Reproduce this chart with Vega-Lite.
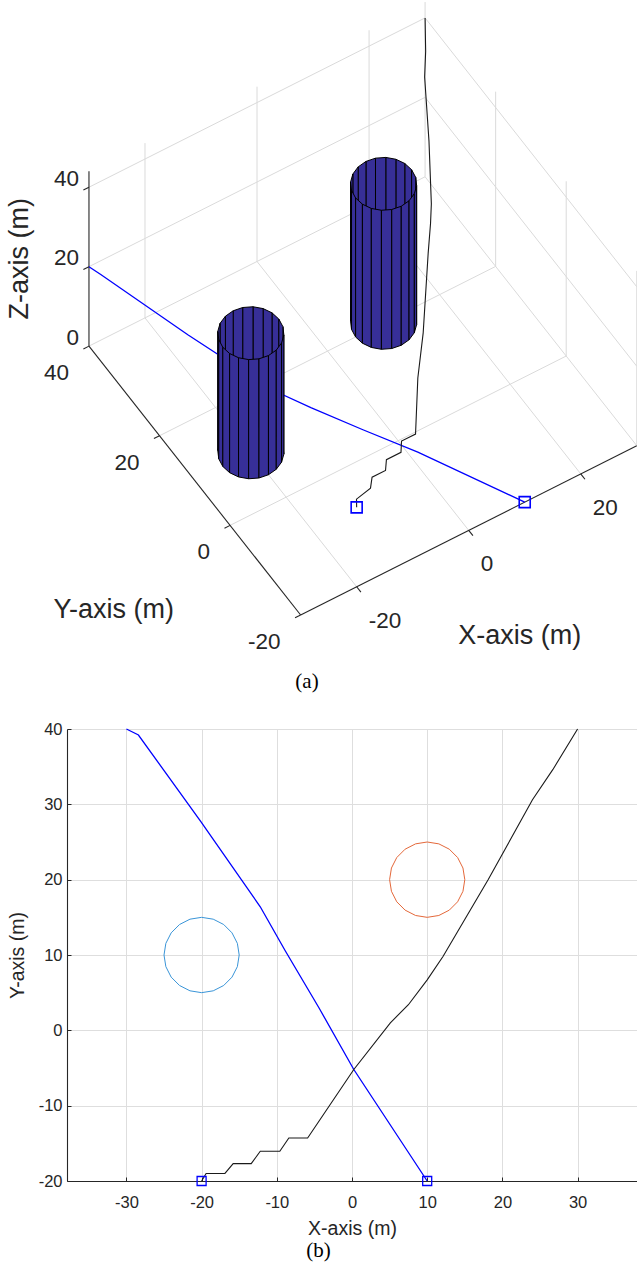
{
"$schema": "https://vega.github.io/schema/vega-lite/v6.json",
"background": "white",
"padding": {"left": 6, "top": 0, "right": 0, "bottom": 22},
"bounds": "flush",
"spacing": 64,
"config": {
  "view": {"stroke": null},
  "font": "Liberation Sans",
  "axis": {"labelFont": "Liberation Sans", "labelFontSize": 16.5, "labelColor": "#262626", "titleFont": "Liberation Sans", "titleFontSize": 19.5, "titleFontWeight": "normal", "titleColor": "#262626", "gridColor": "#dedede", "gridWidth": 1, "domainColor": "#262626", "domainWidth": 1.1, "tickColor": "#262626", "tickSize": -4, "labelOverlap": false, "labelFlush": false, "labelExpr": "toString(datum.value)"},
  "axisX": {"labelPadding": 17, "titlePadding": 9},
  "axisY": {"labelPadding": 9, "titlePadding": 11}
},
"datasets": {
  "obstacles": [
    {"c":"B","f":0,"o":0,"X":15,"Y":20,"Z":0},{"c":"B","f":0,"o":1,"X":14.755,"Y":21.545,"Z":0},{"c":"B","f":0,"o":2,"X":14.755,"Y":21.545,"Z":35},{"c":"B","f":0,"o":3,"X":15,"Y":20,"Z":35},
    {"c":"B","f":1,"o":0,"X":14.755,"Y":21.545,"Z":0},{"c":"B","f":1,"o":1,"X":14.045,"Y":22.939,"Z":0},{"c":"B","f":1,"o":2,"X":14.045,"Y":22.939,"Z":35},{"c":"B","f":1,"o":3,"X":14.755,"Y":21.545,"Z":35},
    {"c":"B","f":2,"o":0,"X":14.045,"Y":22.939,"Z":0},{"c":"B","f":2,"o":1,"X":12.939,"Y":24.045,"Z":0},{"c":"B","f":2,"o":2,"X":12.939,"Y":24.045,"Z":35},{"c":"B","f":2,"o":3,"X":14.045,"Y":22.939,"Z":35},
    {"c":"B","f":3,"o":0,"X":12.939,"Y":24.045,"Z":0},{"c":"B","f":3,"o":1,"X":11.545,"Y":24.755,"Z":0},{"c":"B","f":3,"o":2,"X":11.545,"Y":24.755,"Z":35},{"c":"B","f":3,"o":3,"X":12.939,"Y":24.045,"Z":35},
    {"c":"B","f":4,"o":0,"X":11.545,"Y":24.755,"Z":0},{"c":"B","f":4,"o":1,"X":10,"Y":25,"Z":0},{"c":"B","f":4,"o":2,"X":10,"Y":25,"Z":35},{"c":"B","f":4,"o":3,"X":11.545,"Y":24.755,"Z":35},
    {"c":"B","f":5,"o":0,"X":10,"Y":25,"Z":0},{"c":"B","f":5,"o":1,"X":8.455,"Y":24.755,"Z":0},{"c":"B","f":5,"o":2,"X":8.455,"Y":24.755,"Z":35},{"c":"B","f":5,"o":3,"X":10,"Y":25,"Z":35},
    {"c":"B","f":6,"o":0,"X":8.455,"Y":24.755,"Z":0},{"c":"B","f":6,"o":1,"X":7.061,"Y":24.045,"Z":0},{"c":"B","f":6,"o":2,"X":7.061,"Y":24.045,"Z":35},{"c":"B","f":6,"o":3,"X":8.455,"Y":24.755,"Z":35},
    {"c":"B","f":7,"o":0,"X":7.061,"Y":24.045,"Z":0},{"c":"B","f":7,"o":1,"X":5.955,"Y":22.939,"Z":0},{"c":"B","f":7,"o":2,"X":5.955,"Y":22.939,"Z":35},{"c":"B","f":7,"o":3,"X":7.061,"Y":24.045,"Z":35},
    {"c":"B","f":8,"o":0,"X":5.955,"Y":22.939,"Z":0},{"c":"B","f":8,"o":1,"X":5.245,"Y":21.545,"Z":0},{"c":"B","f":8,"o":2,"X":5.245,"Y":21.545,"Z":35},{"c":"B","f":8,"o":3,"X":5.955,"Y":22.939,"Z":35},
    {"c":"B","f":9,"o":0,"X":5.245,"Y":21.545,"Z":0},{"c":"B","f":9,"o":1,"X":5,"Y":20,"Z":0},{"c":"B","f":9,"o":2,"X":5,"Y":20,"Z":35},{"c":"B","f":9,"o":3,"X":5.245,"Y":21.545,"Z":35},
    {"c":"B","f":10,"o":0,"X":5,"Y":20,"Z":0},{"c":"B","f":10,"o":1,"X":5.245,"Y":18.455,"Z":0},{"c":"B","f":10,"o":2,"X":5.245,"Y":18.455,"Z":35},{"c":"B","f":10,"o":3,"X":5,"Y":20,"Z":35},
    {"c":"B","f":11,"o":0,"X":5.245,"Y":18.455,"Z":0},{"c":"B","f":11,"o":1,"X":5.955,"Y":17.061,"Z":0},{"c":"B","f":11,"o":2,"X":5.955,"Y":17.061,"Z":35},{"c":"B","f":11,"o":3,"X":5.245,"Y":18.455,"Z":35},
    {"c":"B","f":12,"o":0,"X":5.955,"Y":17.061,"Z":0},{"c":"B","f":12,"o":1,"X":7.061,"Y":15.955,"Z":0},{"c":"B","f":12,"o":2,"X":7.061,"Y":15.955,"Z":35},{"c":"B","f":12,"o":3,"X":5.955,"Y":17.061,"Z":35},
    {"c":"B","f":13,"o":0,"X":7.061,"Y":15.955,"Z":0},{"c":"B","f":13,"o":1,"X":8.455,"Y":15.245,"Z":0},{"c":"B","f":13,"o":2,"X":8.455,"Y":15.245,"Z":35},{"c":"B","f":13,"o":3,"X":7.061,"Y":15.955,"Z":35},
    {"c":"B","f":14,"o":0,"X":8.455,"Y":15.245,"Z":0},{"c":"B","f":14,"o":1,"X":10,"Y":15,"Z":0},{"c":"B","f":14,"o":2,"X":10,"Y":15,"Z":35},{"c":"B","f":14,"o":3,"X":8.455,"Y":15.245,"Z":35},
    {"c":"B","f":15,"o":0,"X":10,"Y":15,"Z":0},{"c":"B","f":15,"o":1,"X":11.545,"Y":15.245,"Z":0},{"c":"B","f":15,"o":2,"X":11.545,"Y":15.245,"Z":35},{"c":"B","f":15,"o":3,"X":10,"Y":15,"Z":35},
    {"c":"B","f":16,"o":0,"X":11.545,"Y":15.245,"Z":0},{"c":"B","f":16,"o":1,"X":12.939,"Y":15.955,"Z":0},{"c":"B","f":16,"o":2,"X":12.939,"Y":15.955,"Z":35},{"c":"B","f":16,"o":3,"X":11.545,"Y":15.245,"Z":35},
    {"c":"B","f":17,"o":0,"X":12.939,"Y":15.955,"Z":0},{"c":"B","f":17,"o":1,"X":14.045,"Y":17.061,"Z":0},{"c":"B","f":17,"o":2,"X":14.045,"Y":17.061,"Z":35},{"c":"B","f":17,"o":3,"X":12.939,"Y":15.955,"Z":35},
    {"c":"B","f":18,"o":0,"X":14.045,"Y":17.061,"Z":0},{"c":"B","f":18,"o":1,"X":14.755,"Y":18.455,"Z":0},{"c":"B","f":18,"o":2,"X":14.755,"Y":18.455,"Z":35},{"c":"B","f":18,"o":3,"X":14.045,"Y":17.061,"Z":35},
    {"c":"B","f":19,"o":0,"X":14.755,"Y":18.455,"Z":0},{"c":"B","f":19,"o":1,"X":15,"Y":20,"Z":0},{"c":"B","f":19,"o":2,"X":15,"Y":20,"Z":35},{"c":"B","f":19,"o":3,"X":14.755,"Y":18.455,"Z":35},
    {"c":"F","f":0,"o":0,"X":-15,"Y":10,"Z":0},{"c":"F","f":0,"o":1,"X":-15.245,"Y":11.545,"Z":0},{"c":"F","f":0,"o":2,"X":-15.245,"Y":11.545,"Z":30},{"c":"F","f":0,"o":3,"X":-15,"Y":10,"Z":30},
    {"c":"F","f":1,"o":0,"X":-15.245,"Y":11.545,"Z":0},{"c":"F","f":1,"o":1,"X":-15.955,"Y":12.939,"Z":0},{"c":"F","f":1,"o":2,"X":-15.955,"Y":12.939,"Z":30},{"c":"F","f":1,"o":3,"X":-15.245,"Y":11.545,"Z":30},
    {"c":"F","f":2,"o":0,"X":-15.955,"Y":12.939,"Z":0},{"c":"F","f":2,"o":1,"X":-17.061,"Y":14.045,"Z":0},{"c":"F","f":2,"o":2,"X":-17.061,"Y":14.045,"Z":30},{"c":"F","f":2,"o":3,"X":-15.955,"Y":12.939,"Z":30},
    {"c":"F","f":3,"o":0,"X":-17.061,"Y":14.045,"Z":0},{"c":"F","f":3,"o":1,"X":-18.455,"Y":14.755,"Z":0},{"c":"F","f":3,"o":2,"X":-18.455,"Y":14.755,"Z":30},{"c":"F","f":3,"o":3,"X":-17.061,"Y":14.045,"Z":30},
    {"c":"F","f":4,"o":0,"X":-18.455,"Y":14.755,"Z":0},{"c":"F","f":4,"o":1,"X":-20,"Y":15,"Z":0},{"c":"F","f":4,"o":2,"X":-20,"Y":15,"Z":30},{"c":"F","f":4,"o":3,"X":-18.455,"Y":14.755,"Z":30},
    {"c":"F","f":5,"o":0,"X":-20,"Y":15,"Z":0},{"c":"F","f":5,"o":1,"X":-21.545,"Y":14.755,"Z":0},{"c":"F","f":5,"o":2,"X":-21.545,"Y":14.755,"Z":30},{"c":"F","f":5,"o":3,"X":-20,"Y":15,"Z":30},
    {"c":"F","f":6,"o":0,"X":-21.545,"Y":14.755,"Z":0},{"c":"F","f":6,"o":1,"X":-22.939,"Y":14.045,"Z":0},{"c":"F","f":6,"o":2,"X":-22.939,"Y":14.045,"Z":30},{"c":"F","f":6,"o":3,"X":-21.545,"Y":14.755,"Z":30},
    {"c":"F","f":7,"o":0,"X":-22.939,"Y":14.045,"Z":0},{"c":"F","f":7,"o":1,"X":-24.045,"Y":12.939,"Z":0},{"c":"F","f":7,"o":2,"X":-24.045,"Y":12.939,"Z":30},{"c":"F","f":7,"o":3,"X":-22.939,"Y":14.045,"Z":30},
    {"c":"F","f":8,"o":0,"X":-24.045,"Y":12.939,"Z":0},{"c":"F","f":8,"o":1,"X":-24.755,"Y":11.545,"Z":0},{"c":"F","f":8,"o":2,"X":-24.755,"Y":11.545,"Z":30},{"c":"F","f":8,"o":3,"X":-24.045,"Y":12.939,"Z":30},
    {"c":"F","f":9,"o":0,"X":-24.755,"Y":11.545,"Z":0},{"c":"F","f":9,"o":1,"X":-25,"Y":10,"Z":0},{"c":"F","f":9,"o":2,"X":-25,"Y":10,"Z":30},{"c":"F","f":9,"o":3,"X":-24.755,"Y":11.545,"Z":30},
    {"c":"F","f":10,"o":0,"X":-25,"Y":10,"Z":0},{"c":"F","f":10,"o":1,"X":-24.755,"Y":8.455,"Z":0},{"c":"F","f":10,"o":2,"X":-24.755,"Y":8.455,"Z":30},{"c":"F","f":10,"o":3,"X":-25,"Y":10,"Z":30},
    {"c":"F","f":11,"o":0,"X":-24.755,"Y":8.455,"Z":0},{"c":"F","f":11,"o":1,"X":-24.045,"Y":7.061,"Z":0},{"c":"F","f":11,"o":2,"X":-24.045,"Y":7.061,"Z":30},{"c":"F","f":11,"o":3,"X":-24.755,"Y":8.455,"Z":30},
    {"c":"F","f":12,"o":0,"X":-24.045,"Y":7.061,"Z":0},{"c":"F","f":12,"o":1,"X":-22.939,"Y":5.955,"Z":0},{"c":"F","f":12,"o":2,"X":-22.939,"Y":5.955,"Z":30},{"c":"F","f":12,"o":3,"X":-24.045,"Y":7.061,"Z":30},
    {"c":"F","f":13,"o":0,"X":-22.939,"Y":5.955,"Z":0},{"c":"F","f":13,"o":1,"X":-21.545,"Y":5.245,"Z":0},{"c":"F","f":13,"o":2,"X":-21.545,"Y":5.245,"Z":30},{"c":"F","f":13,"o":3,"X":-22.939,"Y":5.955,"Z":30},
    {"c":"F","f":14,"o":0,"X":-21.545,"Y":5.245,"Z":0},{"c":"F","f":14,"o":1,"X":-20,"Y":5,"Z":0},{"c":"F","f":14,"o":2,"X":-20,"Y":5,"Z":30},{"c":"F","f":14,"o":3,"X":-21.545,"Y":5.245,"Z":30},
    {"c":"F","f":15,"o":0,"X":-20,"Y":5,"Z":0},{"c":"F","f":15,"o":1,"X":-18.455,"Y":5.245,"Z":0},{"c":"F","f":15,"o":2,"X":-18.455,"Y":5.245,"Z":30},{"c":"F","f":15,"o":3,"X":-20,"Y":5,"Z":30},
    {"c":"F","f":16,"o":0,"X":-18.455,"Y":5.245,"Z":0},{"c":"F","f":16,"o":1,"X":-17.061,"Y":5.955,"Z":0},{"c":"F","f":16,"o":2,"X":-17.061,"Y":5.955,"Z":30},{"c":"F","f":16,"o":3,"X":-18.455,"Y":5.245,"Z":30},
    {"c":"F","f":17,"o":0,"X":-17.061,"Y":5.955,"Z":0},{"c":"F","f":17,"o":1,"X":-15.955,"Y":7.061,"Z":0},{"c":"F","f":17,"o":2,"X":-15.955,"Y":7.061,"Z":30},{"c":"F","f":17,"o":3,"X":-17.061,"Y":5.955,"Z":30},
    {"c":"F","f":18,"o":0,"X":-15.955,"Y":7.061,"Z":0},{"c":"F","f":18,"o":1,"X":-15.245,"Y":8.455,"Z":0},{"c":"F","f":18,"o":2,"X":-15.245,"Y":8.455,"Z":30},{"c":"F","f":18,"o":3,"X":-15.955,"Y":7.061,"Z":30},
    {"c":"F","f":19,"o":0,"X":-15.245,"Y":8.455,"Z":0},{"c":"F","f":19,"o":1,"X":-15,"Y":10,"Z":0},{"c":"F","f":19,"o":2,"X":-15,"Y":10,"Z":30},{"c":"F","f":19,"o":3,"X":-15.245,"Y":8.455,"Z":30}
  ],
  "grid3d": [
    {"g":1,"o":0,"X":-20,"Y":-20,"Z":0},{"g":1,"o":1,"X":-20,"Y":40,"Z":0},
    {"g":2,"o":0,"X":0,"Y":-20,"Z":0},{"g":2,"o":1,"X":0,"Y":40,"Z":0},
    {"g":3,"o":0,"X":20,"Y":-20,"Z":0},{"g":3,"o":1,"X":20,"Y":40,"Z":0},
    {"g":4,"o":0,"X":30,"Y":-20,"Z":0},{"g":4,"o":1,"X":30,"Y":40,"Z":0},
    {"g":5,"o":0,"X":-30,"Y":0,"Z":0},{"g":5,"o":1,"X":30,"Y":0,"Z":0},
    {"g":6,"o":0,"X":-30,"Y":20,"Z":0},{"g":6,"o":1,"X":30,"Y":20,"Z":0},
    {"g":7,"o":0,"X":-30,"Y":40,"Z":0},{"g":7,"o":1,"X":30,"Y":40,"Z":0},
    {"g":8,"o":0,"X":-20,"Y":40,"Z":0},{"g":8,"o":1,"X":-20,"Y":40,"Z":44},
    {"g":9,"o":0,"X":0,"Y":40,"Z":0},{"g":9,"o":1,"X":0,"Y":40,"Z":44},
    {"g":10,"o":0,"X":20,"Y":40,"Z":0},{"g":10,"o":1,"X":20,"Y":40,"Z":44},
    {"g":11,"o":0,"X":30,"Y":40,"Z":0},{"g":11,"o":1,"X":30,"Y":40,"Z":44},
    {"g":12,"o":0,"X":-30,"Y":40,"Z":20},{"g":12,"o":1,"X":30,"Y":40,"Z":20},
    {"g":13,"o":0,"X":-30,"Y":40,"Z":40},{"g":13,"o":1,"X":30,"Y":40,"Z":40},
    {"g":14,"o":0,"X":30,"Y":-20,"Z":0},{"g":14,"o":1,"X":30,"Y":-20,"Z":44},
    {"g":15,"o":0,"X":30,"Y":0,"Z":0},{"g":15,"o":1,"X":30,"Y":0,"Z":44},
    {"g":16,"o":0,"X":30,"Y":20,"Z":0},{"g":16,"o":1,"X":30,"Y":20,"Z":44},
    {"g":17,"o":0,"X":30,"Y":-20,"Z":20},{"g":17,"o":1,"X":30,"Y":40,"Z":20},
    {"g":18,"o":0,"X":30,"Y":-20,"Z":40},{"g":18,"o":1,"X":30,"Y":40,"Z":40}
  ],
  "axes3d": [
    {"g":1,"o":0,"X":-30,"Y":40,"Z":0},{"g":1,"o":1,"X":-30,"Y":40,"Z":44},
    {"g":2,"o":0,"X":-30,"Y":-20,"Z":0},{"g":2,"o":1,"X":-30,"Y":40,"Z":0},
    {"g":3,"o":0,"X":-30,"Y":-20,"Z":0},{"g":3,"o":1,"X":30,"Y":-20,"Z":0},
    {"g":4,"o":0,"X":-20,"Y":-20,"Z":0},{"g":4,"o":1,"X":-20,"Y":-21.2,"Z":0},
    {"g":5,"o":0,"X":0,"Y":-20,"Z":0},{"g":5,"o":1,"X":0,"Y":-21.2,"Z":0},
    {"g":6,"o":0,"X":20,"Y":-20,"Z":0},{"g":6,"o":1,"X":20,"Y":-21.2,"Z":0},
    {"g":7,"o":0,"X":-30,"Y":-20,"Z":0},{"g":7,"o":1,"X":-31,"Y":-20,"Z":0},
    {"g":8,"o":0,"X":-30,"Y":0,"Z":0},{"g":8,"o":1,"X":-31,"Y":0,"Z":0},
    {"g":9,"o":0,"X":-30,"Y":20,"Z":0},{"g":9,"o":1,"X":-31,"Y":20,"Z":0},
    {"g":10,"o":0,"X":-30,"Y":40,"Z":0},{"g":10,"o":1,"X":-31,"Y":40,"Z":0},
    {"g":11,"o":0,"X":-30,"Y":40,"Z":20},{"g":11,"o":1,"X":-31,"Y":40,"Z":20},
    {"g":12,"o":0,"X":-30,"Y":40,"Z":40},{"g":12,"o":1,"X":-31,"Y":40,"Z":40}
  ],
  "labels3d": [
    {"ax":"z","t":"0","X":-30,"Y":40,"Z":0},{"ax":"z","t":"20","X":-30,"Y":40,"Z":20},{"ax":"z","t":"40","X":-30,"Y":40,"Z":40},
    {"ax":"y","t":"-20","X":-30,"Y":-20,"Z":0},{"ax":"y","t":"0","X":-30,"Y":0,"Z":0},{"ax":"y","t":"20","X":-30,"Y":20,"Z":0},{"ax":"y","t":"40","X":-30,"Y":40,"Z":0},
    {"ax":"x","t":"-20","X":-20,"Y":-20,"Z":0},{"ax":"x","t":"0","X":0,"Y":-20,"Z":0},{"ax":"x","t":"20","X":20,"Y":-20,"Z":0},
    {"ax":"zt","t":"Z-axis (m)","X":-30,"Y":40,"Z":22},
    {"ax":"yt","t":"Y-axis (m)","X":-30,"Y":10,"Z":0},
    {"ax":"xt","t":"X-axis (m)","X":0,"Y":-20,"Z":0}
  ],
  "uav1": [
    {"i":0,"X":-30,"Y":40,"Z":20},{"i":1,"X":-28.4,"Y":39.2,"Z":17.8},{"i":2,"X":-20.1,"Y":27.7,"Z":9.7},{"i":3,"X":-12.2,"Y":16.4,"Z":3},
    {"i":4,"X":-8.9,"Y":10.6,"Z":2.7},{"i":5,"X":-4.4,"Y":3.0,"Z":2.5},{"i":6,"X":0.24,"Y":-5.2,"Z":2.8},{"i":7,"X":10,"Y":-20,"Z":0}
  ],
  "uav2": [
    {"i":0,"X":-20,"Y":-20,"Z":20},{"i":1,"X":-19.4,"Y":-19.0,"Z":20.5},{"i":2,"X":-16.9,"Y":-19.0,"Z":21.5},{"i":3,"X":-15.8,"Y":-17.7,"Z":22},
    {"i":4,"X":-13.4,"Y":-17.7,"Z":22},{"i":5,"X":-12.2,"Y":-16.05,"Z":22},{"i":6,"X":-9.6,"Y":-16.05,"Z":22},{"i":7,"X":-8.4,"Y":-14.3,"Z":22},
    {"i":8,"X":-5.9,"Y":-14.3,"Z":22},{"i":9,"X":0.24,"Y":-5.2,"Z":21.5},{"i":10,"X":5.1,"Y":1.0,"Z":22.4},{"i":11,"X":7.5,"Y":3.4,"Z":38},
    {"i":12,"X":10,"Y":6.7,"Z":40},{"i":13,"X":12.1,"Y":9.8,"Z":40},{"i":14,"X":18.1,"Y":20,"Z":40},{"i":15,"X":24,"Y":30.6,"Z":40},
    {"i":16,"X":26.7,"Y":34.6,"Z":40},{"i":17,"X":30,"Y":40,"Z":40}
  ],
  "markers": [
    {"X":-20,"Y":-20,"Z":20},{"X":10,"Y":-20,"Z":0}
  ]
},
"vconcat": [
  {
    "width": 570,
    "height": 665,
    "title": {"text": "(a)", "orient": "bottom", "anchor": "middle", "frame": "group", "dx": -45, "offset": 6, "baseline": "top", "font": "Liberation Serif", "fontSize": 21, "fontWeight": "normal", "color": "#000000"},
    "encoding": {
      "x": {"field": "u", "type": "quantitative", "scale": {"domain": [-50.02, 36.08], "nice": false, "zero": false}, "axis": null},
      "y": {"field": "v", "type": "quantitative", "scale": {"domain": [-33.88, 66.57], "nice": false, "zero": false}, "axis": null}
    },
    "layer": [
      {"data": {"name": "grid3d"},
       "transform": [{"calculate": "0.8462*datum.X-0.5329*datum.Y", "as": "u"}, {"calculate": "0.4263*datum.X+0.6769*datum.Y+0.6*datum.Z", "as": "v"}],
       "mark": {"type": "line", "stroke": "#dadada", "strokeWidth": 1},
       "encoding": {"detail": {"field": "g", "type": "nominal"}, "order": {"field": "o", "type": "quantitative"}}},
      {"data": {"name": "axes3d"},
       "transform": [{"calculate": "0.8462*datum.X-0.5329*datum.Y", "as": "u"}, {"calculate": "0.4263*datum.X+0.6769*datum.Y+0.6*datum.Z", "as": "v"}],
       "mark": {"type": "line", "stroke": "#262626", "strokeWidth": 1.1},
       "encoding": {"detail": {"field": "g", "type": "nominal"}, "order": {"field": "o", "type": "quantitative"}}},
      {"data": {"name": "labels3d"},
       "transform": [{"filter": "datum.ax == 'z'"}, {"calculate": "0.8462*datum.X-0.5329*datum.Y", "as": "u"}, {"calculate": "0.4263*datum.X+0.6769*datum.Y+0.6*datum.Z", "as": "v"}],
       "mark": {"type": "text", "align": "right", "baseline": "middle", "dx": -10, "dy": -8.5, "fontSize": 22.5, "font": "Liberation Sans", "color": "#262626"},
       "encoding": {"text": {"field": "t"}}},
      {"data": {"name": "labels3d"},
       "transform": [{"filter": "datum.ax == 'y'"}, {"calculate": "0.8462*datum.X-0.5329*datum.Y", "as": "u"}, {"calculate": "0.4263*datum.X+0.6769*datum.Y+0.6*datum.Z", "as": "v"}],
       "mark": {"type": "text", "align": "right", "baseline": "middle", "dx": -20, "dy": 27, "fontSize": 22.5, "font": "Liberation Sans", "color": "#262626"},
       "encoding": {"text": {"field": "t"}}},
      {"data": {"name": "labels3d"},
       "transform": [{"filter": "datum.ax == 'x'"}, {"calculate": "0.8462*datum.X-0.5329*datum.Y", "as": "u"}, {"calculate": "0.4263*datum.X+0.6769*datum.Y+0.6*datum.Z", "as": "v"}],
       "mark": {"type": "text", "align": "left", "baseline": "middle", "dx": 12, "dy": 34, "fontSize": 22.5, "font": "Liberation Sans", "color": "#262626"},
       "encoding": {"text": {"field": "t"}}},
      {"data": {"name": "labels3d"},
       "transform": [{"filter": "datum.ax == 'zt'"}, {"calculate": "0.8462*datum.X-0.5329*datum.Y", "as": "u"}, {"calculate": "0.4263*datum.X+0.6769*datum.Y+0.6*datum.Z", "as": "v"}],
       "mark": {"type": "text", "align": "center", "baseline": "middle", "angle": 270, "dx": 0, "dy": -68.6, "fontSize": 27, "font": "Liberation Sans", "color": "#262626"},
       "encoding": {"text": {"field": "t"}}},
      {"data": {"name": "labels3d"},
       "transform": [{"filter": "datum.ax == 'yt'"}, {"calculate": "0.8462*datum.X-0.5329*datum.Y", "as": "u"}, {"calculate": "0.4263*datum.X+0.6769*datum.Y+0.6*datum.Z", "as": "v"}],
       "mark": {"type": "text", "align": "center", "baseline": "middle", "dx": -81, "dy": 129, "fontSize": 27, "font": "Liberation Sans", "color": "#262626"},
       "encoding": {"text": {"field": "t"}}},
      {"data": {"name": "labels3d"},
       "transform": [{"filter": "datum.ax == 'xt'"}, {"calculate": "0.8462*datum.X-0.5329*datum.Y", "as": "u"}, {"calculate": "0.4263*datum.X+0.6769*datum.Y+0.6*datum.Z", "as": "v"}],
       "mark": {"type": "text", "align": "center", "baseline": "middle", "dx": 51, "dy": 106, "fontSize": 27, "font": "Liberation Sans", "color": "#262626"},
       "encoding": {"text": {"field": "t"}}},
      {"data": {"name": "obstacles"},
       "transform": [{"filter": "datum.f < 8 || datum.f > 17"}, {"calculate": "0.8462*datum.X-0.5329*datum.Y", "as": "u"}, {"calculate": "0.4263*datum.X+0.6769*datum.Y+0.6*datum.Z", "as": "v"}],
       "mark": {"type": "line", "interpolate": "linear-closed", "fill": "#372f98", "stroke": "#000000", "strokeWidth": 1},
       "encoding": {"detail": [{"field": "c", "type": "nominal"}, {"field": "f", "type": "nominal"}], "order": {"field": "o", "type": "quantitative"}}},
      {"data": {"name": "uav1"},
       "transform": [{"calculate": "0.8462*datum.X-0.5329*datum.Y", "as": "u"}, {"calculate": "0.4263*datum.X+0.6769*datum.Y+0.6*datum.Z", "as": "v"}],
       "mark": {"type": "line", "stroke": "#0000ff", "strokeWidth": 1.3},
       "encoding": {"order": {"field": "i", "type": "quantitative"}}},
      {"data": {"name": "obstacles"},
       "transform": [{"filter": "datum.f >= 8 && datum.f <= 17"}, {"calculate": "0.8462*datum.X-0.5329*datum.Y", "as": "u"}, {"calculate": "0.4263*datum.X+0.6769*datum.Y+0.6*datum.Z", "as": "v"}],
       "mark": {"type": "line", "interpolate": "linear-closed", "fill": "#372f98", "stroke": "#000000", "strokeWidth": 1},
       "encoding": {"detail": [{"field": "c", "type": "nominal"}, {"field": "f", "type": "nominal"}], "order": {"field": "o", "type": "quantitative"}}},
      {"data": {"name": "uav2"},
       "transform": [{"calculate": "0.8462*datum.X-0.5329*datum.Y", "as": "u"}, {"calculate": "0.4263*datum.X+0.6769*datum.Y+0.6*datum.Z", "as": "v"}],
       "mark": {"type": "line", "stroke": "#1a1a1a", "strokeWidth": 1.1},
       "encoding": {"order": {"field": "i", "type": "quantitative"}}},
      {"data": {"name": "markers"},
       "transform": [{"calculate": "0.8462*datum.X-0.5329*datum.Y", "as": "u"}, {"calculate": "0.4263*datum.X+0.6769*datum.Y+0.6*datum.Z", "as": "v"}],
       "mark": {"type": "point", "shape": "square", "size": 121, "filled": false, "stroke": "#0000ff", "strokeWidth": 1.6, "opacity": 1}}
    ]
  },
  {
    "width": 570,
    "height": 452,
    "title": {"text": "(b)", "orient": "bottom", "anchor": "middle", "frame": "group", "dx": -33.5, "offset": 2, "baseline": "top", "font": "Liberation Serif", "fontSize": 21, "fontWeight": "normal", "color": "#000000"},
    "encoding": {
      "x": {"field": "X", "type": "quantitative", "scale": {"domain": [-37.9, 37.9], "nice": false, "zero": false}, "axis": {"title": "X-axis (m)", "values": [-30, -20, -10, 0, 10, 20, 30], "grid": true}},
      "y": {"field": "Y", "type": "quantitative", "scale": {"domain": [-20, 40], "nice": false, "zero": false}, "axis": {"title": "Y-axis (m)", "values": [-20, -10, 0, 10, 20, 30, 40], "grid": true}}
    },
    "layer": [
      {"data": {"name": "obstacles"},
       "transform": [{"filter": "datum.o == 0"}],
       "mark": {"type": "line", "interpolate": "linear-closed", "strokeWidth": 1},
       "encoding": {"color": {"field": "c", "type": "nominal", "scale": {"domain": ["F", "B"], "range": ["#3a95d8", "#e4683a"]}, "legend": null}, "order": {"field": "f", "type": "quantitative"}}},
      {"data": {"name": "uav1"},
       "mark": {"type": "line", "stroke": "#0000ff", "strokeWidth": 1.3},
       "encoding": {"order": {"field": "i", "type": "quantitative"}}},
      {"data": {"name": "uav2"},
       "mark": {"type": "line", "stroke": "#1a1a1a", "strokeWidth": 1.1},
       "encoding": {"order": {"field": "i", "type": "quantitative"}}},
      {"data": {"name": "markers"},
       "mark": {"type": "point", "shape": "square", "size": 81, "filled": false, "stroke": "#0000ff", "strokeWidth": 1.3, "opacity": 1}}
    ]
  }
]
}
